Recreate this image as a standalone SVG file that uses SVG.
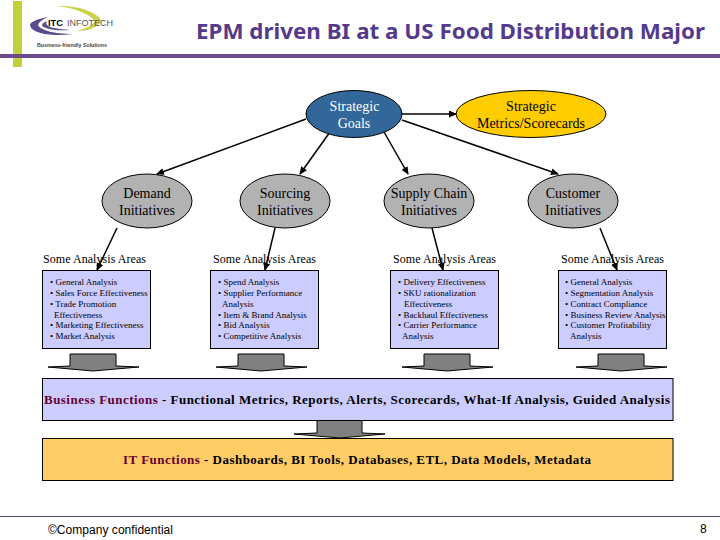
<svg xmlns="http://www.w3.org/2000/svg" width="720" height="540" viewBox="0 0 720 540">
<style>
text{font-family:"Liberation Serif","Times New Roman",serif;fill:#000}
.n{font-size:14px;text-anchor:middle}
.h{font-size:12px}
.b{font-size:9px}
.f{font-size:13px;font-weight:bold}
.m{fill:#660033}
.s{font-family:"Liberation Sans",Arial,sans-serif}
.e{stroke:#000;stroke-width:1}
.g{fill:#b2b2b2}
.r{fill:#ccccff;stroke:#000;stroke-width:1}
.c line{stroke:#000;stroke-width:1.5;marker-end:url(#a)}
.d{fill:#808080;stroke:#000;stroke-width:1;stroke-linejoin:round}
</style>
<defs>
<marker id="a" markerUnits="userSpaceOnUse" markerWidth="10" markerHeight="8" refX="7" refY="3.5" orient="auto"><path d="M0 0L8 3.5L0 7z" fill="#000"/></marker>
</defs>
<rect width="720" height="540" fill="#fff"/>
<g id="header">
<rect x="13" y="1" width="9" height="66" fill="#c4cf3a"/>
<rect x="0" y="54" width="720" height="4" fill="#6a4a8a"/>
<text x="196" y="38.500" textLength="509" lengthAdjust="spacingAndGlyphs" style="font-family:'Noto Sans',sans-serif;font-size:22px;font-weight:bold;fill:#553a8b">EPM driven BI at a US Food Distribution Major</text>
</g>
<g id="logo">
<path d="M57 6C78 5 97 12 102 21C96 28 88 31 77 31C87 28 93 25 95 21C88 13 74 8 57 6z" fill="#c9d24a"/>
<path d="M48 17C37 19 30 22 30 25C31 33 50 37 73 34C54 34 40 30 38 25C39 22 42 20 48 17z" fill="#5c4a8c"/>
<path d="M47 21C44 22 42 24 42 25C43 29 56 31 70 30C58 29 50 28 47 25C46 24 46 23 47 21z" fill="#5c4a8c"/>
<text x="48" y="25.500" class="s" font-size="9" font-weight="bold" textLength="15" lengthAdjust="spacingAndGlyphs">ITC</text>
<text x="67" y="25.500" class="s" font-size="9" textLength="46" lengthAdjust="spacingAndGlyphs" style="fill:#555">INFOTECH</text>
<text x="37" y="47" class="s" font-size="5.500" font-weight="bold" textLength="70" lengthAdjust="spacingAndGlyphs" style="fill:#444">Business-friendly Solutions</text>
</g>
<g id="connectors" class="c">
<line x1="306" y1="119" x2="157" y2="174"/>
<line x1="330" y1="132" x2="300" y2="174"/>
<line x1="384" y1="132" x2="408" y2="174"/>
<line x1="402" y1="120" x2="558" y2="174"/>
<line x1="402" y1="114" x2="456" y2="114"/>
<line x1="117" y1="228" x2="97" y2="270"/>
<line x1="275" y1="228" x2="265" y2="270"/>
<line x1="432" y1="228" x2="443" y2="270"/>
<line x1="600" y1="228" x2="617" y2="270"/>
</g>
<g id="goals"><ellipse cx="354" cy="114" rx="48" ry="23.500" fill="#336699" class="e"/>
<text class="n" x="354.500" y="111" style="fill:#fff">Strategic</text><text class="n" x="354" y="128" style="fill:#fff">Goals</text></g>
<g id="metrics"><ellipse cx="531" cy="114" rx="75" ry="23.500" fill="#ffcc00" class="e"/>
<text class="n" x="531" y="111">Strategic</text><text class="n" x="531" y="128">Metrics/Scorecards</text></g>
<g id="demand"><ellipse cx="147" cy="201" rx="45" ry="27" class="e g"/>
<text class="n" x="147" y="198">Demand</text><text class="n" x="147" y="215">Initiatives</text></g>
<g id="sourcing"><ellipse cx="285" cy="201" rx="45" ry="27" class="e g"/>
<text class="n" x="285" y="198">Sourcing</text><text class="n" x="285" y="215">Initiatives</text></g>
<g id="supply"><ellipse cx="429" cy="201" rx="45" ry="27" class="e g"/>
<text class="n" x="429" y="198">Supply Chain</text><text class="n" x="429" y="215">Initiatives</text></g>
<g id="customer"><ellipse cx="573" cy="201" rx="45" ry="27" class="e g"/>
<text class="n" x="573" y="198">Customer</text><text class="n" x="573" y="215">Initiatives</text></g>
<g id="demand-areas">
<text class="h" x="43" y="263" textLength="103">Some Analysis Areas</text>
<rect class="r" x="42.500" y="270.500" width="108" height="78"/>
<text class="b"><tspan x="50" y="285">• General Analysis</tspan><tspan x="50" y="296">• Sales Force Effectiveness</tspan><tspan x="50" y="307">• Trade Promotion</tspan><tspan x="54" y="318">Effectiveness</tspan><tspan x="50" y="328">• Marketing Effectiveness</tspan><tspan x="50" y="339">• Market Analysis</tspan></text>
</g>
<g id="sourcing-areas">
<text class="h" x="213" y="263" textLength="103">Some Analysis Areas</text>
<rect class="r" x="210.500" y="270.500" width="108" height="78"/>
<text class="b"><tspan x="218" y="285">• Spend Analysis</tspan><tspan x="218" y="296">• Supplier Performance</tspan><tspan x="222" y="307">Analysis</tspan><tspan x="218" y="318">• Item &amp; Brand Analysis</tspan><tspan x="218" y="328">• Bid Analysis</tspan><tspan x="218" y="339">• Competitive Analysis</tspan></text>
</g>
<g id="supply-areas">
<text class="h" x="393" y="263" textLength="103">Some Analysis Areas</text>
<rect class="r" x="390.500" y="270.500" width="108" height="78"/>
<text class="b"><tspan x="398" y="285">•  Delivery Effectiveness</tspan><tspan x="398" y="296">•  SKU rationalization</tspan><tspan x="404" y="307">Effectiveness</tspan><tspan x="398" y="318">• Backhaul Effectiveness</tspan><tspan x="398" y="328">• Carrier Performance</tspan><tspan x="402" y="339">Analysis</tspan></text>
</g>
<g id="customer-areas">
<text class="h" x="561" y="263" textLength="103">Some Analysis Areas</text>
<rect class="r" x="558.500" y="270.500" width="108" height="78"/>
<text class="b"><tspan x="565" y="285">• General Analysis</tspan><tspan x="565" y="296">• Segmentation Analysis</tspan><tspan x="565" y="307">• Contract Compliance</tspan><tspan x="565" y="318">• Business Review Analysis</tspan><tspan x="565" y="328">• Customer Profitability</tspan><tspan x="570" y="339">Analysis</tspan></text>
</g>
<g id="block-arrows">
<path class="d" d="M70 354H116V366L139 367L93 371L48 367L70 366z"/>
<path class="d" d="M238 354H284V366L307 367L261 371L216 367L238 366z"/>
<path class="d" d="M424 354H470V366L493 367L447 371L402 367L424 366z"/>
<path class="d" d="M598 354H644V366L667 367L621 371L576 367L598 366z"/>
<path class="d" d="M317 420.500H362V433L385 434L340 438L294 434L317 433z"/>
</g>
<g id="business-functions">
<rect class="r" x="42.500" y="378.500" width="630.500" height="42"/>
<text class="f" x="44" y="403.500" textLength="626"><tspan class="m">Business Functions</tspan> - Functional Metrics, Reports, Alerts, Scorecards, What-If Analysis, Guided Analysis</text>
</g>
<g id="it-functions">
<rect x="42.500" y="438.500" width="630.500" height="42" fill="#ffcc66" stroke="#000"/>
<text class="f" x="123" y="463.500" textLength="468"><tspan class="m">IT Functions</tspan> - Dashboards, BI Tools, Databases, ETL, Data Models, Metadata</text>
</g>
<g id="footer">
<rect x="0" y="516" width="720" height="1" fill="#5a4a6a"/>
<text class="s" x="48" y="534" font-size="12" textLength="125">©Company confidential</text>
<text class="s" x="700" y="533" font-size="12">8</text>
</g>
</svg>
